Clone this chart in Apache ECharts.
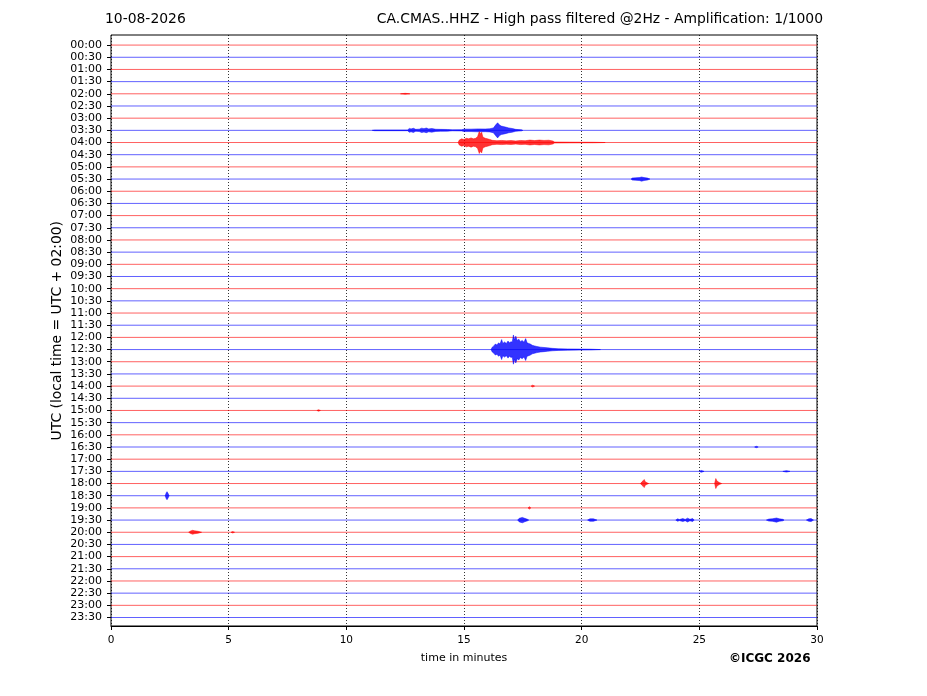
<!DOCTYPE html>
<html>
<head>
<meta charset="utf-8">
<script src="https://cdn.jsdelivr.net/npm/echarts@6/dist/echarts.min.js"></script>
<style>
  html, body { margin: 0; padding: 0; background: #fff; }
  #main { width: 927px; height: 696px; }
</style>
</head>
<body>
<div id="main"></div>
<script>
var timeLabels = [
  "00:00", "00:30", "01:00", "01:30", "02:00", "02:30", "03:00", "03:30",
  "04:00", "04:30", "05:00", "05:30", "06:00", "06:30", "07:00", "07:30",
  "08:00", "08:30", "09:00", "09:30", "10:00", "10:30", "11:00", "11:30",
  "12:00", "12:30", "13:00", "13:30", "14:00", "14:30", "15:00", "15:30",
  "16:00", "16:30", "17:00", "17:30", "18:00", "18:30", "19:00", "19:30",
  "20:00", "20:30", "21:00", "21:30", "22:00", "22:30", "23:00", "23:30"
];
var xTicks = [0, 5, 10, 15, 20, 25, 30];

// envelopes: [minute, half amplitude in trace spacings]
var ev0330 = [[11.1,0],[11.2,0.03],[12.6,0.03],[12.68,0.16],[12.75,0.12],[12.85,0.17],[12.95,0.08],[13.1,0.1],[13.2,0.18],[13.3,0.14],[13.4,0.19],[13.5,0.12],[13.63,0.15],[13.8,0.09],[14.0,0.08],[14.3,0.07],[14.5,0.04],[14.9,0.05],[15.0,0.1],[15.3,0.1],[15.6,0.12],[15.9,0.11],[16.1,0.13],[16.25,0.2],[16.35,0.45],[16.43,0.62],[16.5,0.45],[16.58,0.35],[16.7,0.3],[16.8,0.25],[16.9,0.2],[17.05,0.15],[17.2,0.08],[17.45,0.04],[17.5,0]];
var ev0400 = [[14.75,0],[14.8,0.2],[14.9,0.3],[15.0,0.25],[15.1,0.35],[15.2,0.3],[15.3,0.38],[15.4,0.3],[15.5,0.35],[15.58,0.5],[15.65,0.9],[15.7,0.7],[15.75,0.85],[15.8,0.45],[15.9,0.35],[16.0,0.3],[16.1,0.25],[16.2,0.18],[16.4,0.15],[16.6,0.17],[16.8,0.14],[17.0,0.16],[17.2,0.13],[17.4,0.17],[17.6,0.15],[17.8,0.2],[18.0,0.16],[18.2,0.2],[18.4,0.17],[18.6,0.19],[18.78,0.12],[18.85,0.04],[19.5,0.03],[20.5,0.02],[21.0,0]];
var ev1230 = [[16.15,0],[16.2,0.2],[16.27,0.3],[16.33,0.45],[16.4,0.38],[16.47,0.55],[16.53,0.45],[16.6,0.82],[16.65,0.5],[16.72,0.62],[16.8,0.5],[16.87,0.7],[16.93,0.55],[17.0,0.65],[17.05,0.6],[17.1,1.2],[17.15,0.8],[17.2,1.1],[17.26,0.75],[17.33,0.85],[17.4,0.65],[17.47,0.75],[17.55,0.6],[17.62,0.9],[17.68,0.55],[17.75,0.5],[17.82,0.45],[17.9,0.35],[18.0,0.3],[18.1,0.25],[18.25,0.2],[18.4,0.17],[18.55,0.14],[18.75,0.1],[19.0,0.07],[19.4,0.05],[19.9,0.04],[20.4,0.03],[20.8,0]];
var ev0530 = [[22.1,0],[22.15,0.08],[22.3,0.1],[22.45,0.12],[22.55,0.17],[22.65,0.12],[22.8,0.08],[22.9,0]];
var ev1800a = [[22.5,0],[22.55,0.12],[22.62,0.25],[22.66,0.33],[22.7,0.15],[22.78,0.06],[22.85,0]];
var ev1800b = [[25.65,0],[25.7,0.41],[25.75,0.2],[25.85,0.08],[25.95,0]];
var ev1830 = [[2.3,0],[2.35,0.25],[2.38,0.33],[2.42,0.2],[2.47,0]];
var ev2000a = [[3.3,0],[3.38,0.1],[3.47,0.16],[3.55,0.12],[3.7,0.08],[3.85,0]];
var ev2000b = [[5.1,0],[5.17,0.06],[5.25,0]];
var ev1930a = [[17.28,0],[17.35,0.15],[17.48,0.22],[17.58,0.14],[17.7,0.06],[17.75,0]];
var ev1930b = [[20.25,0],[20.35,0.1],[20.5,0.1],[20.65,0]];
var ev1930c = [[24.0,0],[24.08,0.1],[24.15,0.04],[24.3,0.12],[24.4,0.05],[24.5,0.16],[24.6,0.06],[24.72,0.12],[24.78,0]];
var ev1930d = [[27.85,0],[27.95,0.08],[28.1,0.1],[28.28,0.17],[28.4,0.1],[28.55,0.06],[28.6,0]];
var ev1930e = [[29.55,0],[29.65,0.1],[29.75,0.12],[29.85,0]];
var ev1730a = [[25.0,0],[25.08,0.08],[25.2,0]];
var ev1730b = [[28.55,0],[28.7,0.06],[28.85,0]];
var ev1900 = [[17.72,0],[17.78,0.1],[17.84,0]];
var ev0200 = [[12.3,0],[12.5,0.04],[12.7,0]];
var ev1400 = [[17.85,0],[17.92,0.08],[18.0,0]];
var ev1500 = [[8.75,0],[8.82,0.06],[8.9,0]];
var ev1630 = [[27.35,0],[27.42,0.06],[27.5,0]];

var eventRows = ["03:30", "04:00", "12:30", "05:30", "18:00", "18:00", "18:30", "20:00", "20:00",
  "19:30", "19:30", "19:30", "19:30", "19:30", "17:30", "17:30", "19:00", "02:00", "14:00", "15:00", "16:30"];
var eventShapes = [ev0330, ev0400, ev1230, ev0530, ev1800a, ev1800b, ev1830, ev2000a, ev2000b,
  ev1930a, ev1930b, ev1930c, ev1930d, ev1930e, ev1730a, ev1730b, ev1900, ev0200, ev1400, ev1500, ev1630];

function traceColor(row, alpha) {
  return row % 2 === 0 ? "rgba(255,0,0," + alpha + ")" : "rgba(0,0,255," + alpha + ")";
}

var baseData = timeLabels.map(function (t, i) { return [0, i]; });
var eventData = eventShapes.map(function (pts, i) {
  return [pts[0][0], timeLabels.indexOf(eventRows[i])];
});

var chart = echarts.init(document.getElementById("main"));
var font = "DejaVu Sans";

var option = {
  animation: false,
  backgroundColor: "#fff",
  grid: [
    { left: 111, right: 110, top: 35, bottom: 70, show: true, borderColor: "#000", borderWidth: 1, backgroundColor: "transparent" },
    { left: 111, right: 110, top: 39.0, height: 584.6 }
  ],
  xAxis: [
    {
      gridIndex: 0, type: "value", min: 0, max: 30, interval: 5,
      name: "time in minutes", nameLocation: "middle", nameGap: 27,
      nameTextStyle: { color: "#000", fontSize: 11, fontFamily: font },
      axisLine: { show: true, lineStyle: { color: "#000", width: 1 } },
      axisTick: { show: true, length: 4, lineStyle: { color: "#000" } },
      axisLabel: { color: "#000", fontSize: 10.5, fontFamily: font, margin: 9,
        formatter: function (v) { return xTicks.indexOf(v) >= 0 ? String(v) : ""; } },
      splitLine: { show: true, lineStyle: { color: "#000", width: 0.8, type: [1, 2] } }
    },
    { gridIndex: 1, type: "value", min: 0, max: 30, show: false }
  ],
  yAxis: [
    { gridIndex: 0, type: "value", min: 0, max: 1, show: false },
    {
      gridIndex: 1, type: "category", data: timeLabels, inverse: true, boundaryGap: true,
      axisLine: { show: false },
      axisTick: { show: true, alignWithLabel: true, interval: 0, length: 4, lineStyle: { color: "#000" } },
      axisLabel: { interval: 0, color: "#000", fontSize: 11, fontFamily: font, margin: 9 },
      splitLine: { show: false }
    }
  ],
  graphic: [
    { type: "text", left: 105, top: 12, style: { text: "10-08-2026", font: "13.9px " + font, fill: "#000" } },
    { type: "text", right: 104, top: 12, style: { text: "CA.CMAS..HHZ - High pass filtered @2Hz - Amplification: 1/1000", font: "13.9px " + font, fill: "#000" } },
    { type: "text", left: 50, top: 221, rotation: Math.PI / 2, originX: 0, originY: 0,
      style: { text: "UTC (local time = UTC + 02:00)", font: "13.9px " + font, fill: "#000" } },
    { type: "text", left: 729, top: 653, style: { text: "\u00a9ICGC 2026", font: "bold 12px " + font, fill: "#000" } }
  ],
  series: [
    {
      type: "custom", xAxisIndex: 1, yAxisIndex: 1, data: baseData, encode: { x: 0, y: 1 }, z: 2,
      renderItem: function (params, api) {
        var row = api.value(1);
        var a = api.coord([0, row]);
        var b = api.coord([30, row]);
        return { type: "line", shape: { x1: a[0], y1: a[1], x2: b[0], y2: b[1] },
          style: { stroke: traceColor(row, 0.62), lineWidth: 1 } };
      }
    },
    {
      type: "custom", xAxisIndex: 1, yAxisIndex: 1, data: eventData, encode: { x: 0, y: 1 }, z: 3,
      renderItem: function (params, api) {
        var row = api.value(1);
        var pts = eventShapes[params.dataIndex];
        var band = api.size([0, 1])[1];
        var cy = api.coord([0, row])[1];
        var upper = [], lower = [];
        pts.forEach(function (p) {
          var x = api.coord([p[0], row])[0];
          upper.push([x, cy - p[1] * band]);
          lower.unshift([x, cy + p[1] * band]);
        });
        return { type: "polygon", shape: { points: upper.concat(lower) },
          style: { fill: traceColor(row, 0.8), stroke: traceColor(row, 0.8), lineWidth: 0.6 } };
      }
    }
  ]
};

chart.setOption(option);
window.onresize = chart.resize;
</script>
</body>
</html>
